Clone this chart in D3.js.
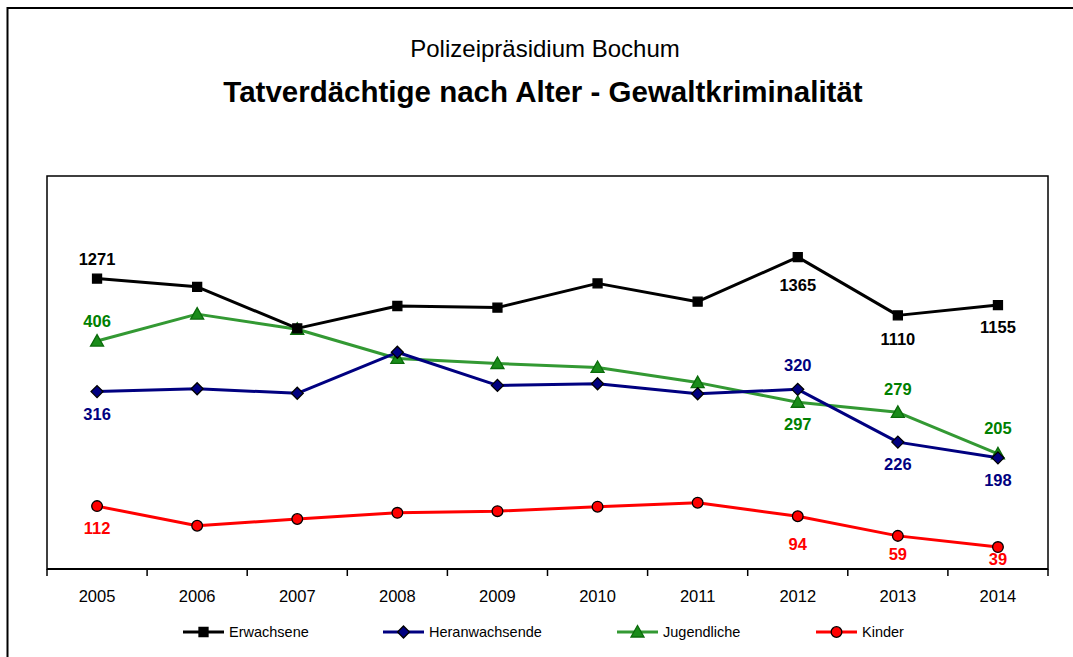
<!DOCTYPE html>
<html>
<head>
<meta charset="utf-8">
<script src="https://cdn.jsdelivr.net/npm/d3@7"></script>
<style>
  body { margin: 0; background: #fff; }
  svg { font-family: "Liberation Sans", Arial, sans-serif; }
</style>
</head>
<body>
<div id="container"></div>
<script>
// data
var years = ["2005","2006","2007","2008","2009","2010","2011","2012","2013","2014"];
var erwachsene      = [1271, 1235, 1053, 1151, 1144, 1250, 1170, 1365, 1110, 1155];
var heranwachsende  = [316, 321, 313, 386, 327, 330, 312, 320, 226, 198];
var jugendliche     = [406, 454, 427, 375, 366, 359, 332, 297, 279, 205];
var kinder          = [112, 77, 89, 100, 103, 111, 118, 94, 59, 39];

// which points carry a value label
var labelsErw  = [{i:0, pos:"above"}, {i:7, pos:"below", dy:6}, {i:8, pos:"below", dy:2}, {i:9, pos:"below"}];
var labelsHer  = [{i:0, pos:"below"}, {i:7, pos:"above", dy:-4}, {i:8, pos:"below"}, {i:9, pos:"below"}];
var labelsJug  = [{i:0, pos:"above"}, {i:7, pos:"below"}, {i:8, pos:"above", dy:-3}, {i:9, pos:"above", dy:-6}];
var labelsKin  = [{i:0, pos:"below"}, {i:7, pos:"below", dy:6}, {i:8, pos:"below", dy:-4}, {i:9, pos:"below", dy:-10}];

var W = 1073, H = 657;
var plot = {left: 47, right: 1048, top: 176, bottom: 569};

var svg = d3.select("#container").append("svg")
    .attr("width", W).attr("height", H);

// outer frame (runs off the right/bottom edge like the original)
svg.append("rect")
    .attr("x", 7.5).attr("y", 8).attr("width", W + 10).attr("height", H + 10)
    .attr("fill", "none").attr("stroke", "#000").attr("stroke-width", 2);

svg.append("text").attr("x", 545).attr("y", 57)
    .attr("text-anchor", "middle").attr("font-size", 24)
    .text("Polizeipräsidium Bochum");
svg.append("text").attr("x", 543).attr("y", 102)
    .attr("text-anchor", "middle").attr("font-size", 29.5).attr("font-weight", "bold")
    .text("Tatverdächtige nach Alter - Gewaltkriminalität");

var x = d3.scaleBand().domain(years).range([plot.left, plot.right]);
var yL = d3.scaleLinear().domain([0, 700]).range([plot.bottom, plot.top]);
var yR = d3.scaleLinear().domain([0, 1720]).range([plot.bottom, plot.top]);

// plot box
svg.append("rect")
    .attr("x", plot.left).attr("y", plot.top)
    .attr("width", plot.right - plot.left).attr("height", plot.bottom - plot.top)
    .attr("fill", "none").attr("stroke", "#000").attr("stroke-width", 1.5);

// x axis: ticks between categories
var xAxis = svg.append("g").attr("transform", "translate(0," + plot.bottom + ")");
xAxis.append("line")
    .attr("x1", plot.left).attr("x2", plot.right)
    .attr("stroke", "#000").attr("stroke-width", 2);
var tickPos = years.map(function (d) { return x(d); }).concat([plot.right]);
xAxis.selectAll("line.tick").data(tickPos).enter().append("line")
    .attr("class", "tick")
    .attr("x1", function (d) { return d; }).attr("x2", function (d) { return d; })
    .attr("y1", 0).attr("y2", 7)
    .attr("stroke", "#000").attr("stroke-width", 1.5);
xAxis.selectAll("text").data(years).enter().append("text")
    .attr("x", function (d) { return x(d) + x.bandwidth() / 2; })
    .attr("y", 33)
    .attr("text-anchor", "middle").attr("font-size", 16.5)
    .text(function (d) { return d; });

var series = [
  {name: "Erwachsene", values: erwachsene, scale: yR, line: "#000", fill: "#000", stroke: "#000", label: "#000", marker: "square", labels: labelsErw},
  {name: "Heranwachsende", values: heranwachsende, scale: yL, line: "#000080", fill: "#000080", stroke: "#000", label: "#000080", marker: "diamond", labels: labelsHer},
  {name: "Jugendliche", values: jugendliche, scale: yL, line: "#339933", fill: "#1a8c1a", stroke: "#0b6b0b", label: "#008000", marker: "triangle", labels: labelsJug},
  {name: "Kinder", values: kinder, scale: yL, line: "#ff0000", fill: "#ff0000", stroke: "#000", label: "#ff0000", marker: "circle", labels: labelsKin}
];

function markerPath(type) {
  if (type === "square") return "M-4.5,-4.5H4.5V4.5H-4.5Z";
  if (type === "diamond") return "M0,-6L6,0L0,6L-6,0Z";
  if (type === "triangle") return "M0,-6.5L6.5,5L-6.5,5Z";
  return d3.symbol().type(d3.symbolCircle).size(90)();
}

function drawMarker(g, s, cx, cy) {
  g.append("path")
    .attr("d", markerPath(s.marker))
    .attr("transform", "translate(" + cx + "," + cy + ")")
    .attr("fill", s.fill).attr("stroke", s.stroke).attr("stroke-width", 1.3);
}

// draw bottom series first so black sits on top like the original order reversed
series.slice().reverse().forEach(function (s) {
  var g = svg.append("g");
  var line = d3.line()
      .x(function (d, i) { return x(years[i]) + x.bandwidth() / 2; })
      .y(function (d) { return s.scale(d); });
  g.append("path").datum(s.values)
    .attr("d", line).attr("fill", "none")
    .attr("stroke", s.line).attr("stroke-width", 3).attr("stroke-linejoin", "round");
  s.values.forEach(function (v, i) {
    drawMarker(g, s, x(years[i]) + x.bandwidth() / 2, s.scale(v));
  });
});

// value labels
series.forEach(function (s) {
  svg.append("g").selectAll("text").data(s.labels).enter().append("text")
    .attr("x", function (d) { return x(years[d.i]) + x.bandwidth() / 2; })
    .attr("y", function (d) {
      var py = s.scale(s.values[d.i]);
      return (d.pos === "above" ? py - 14 : py + 28) + (d.dy || 0);
    })
    .attr("text-anchor", "middle").attr("font-size", 16.5).attr("font-weight", "bold")
    .attr("fill", s.label)
    .text(function (d) { return s.values[d.i]; });
});

// legend
var legendX = [183, 383, 617, 816];
var legend = svg.append("g").attr("transform", "translate(0,632)");
series.forEach(function (s, i) {
  var lg = legend.append("g").attr("transform", "translate(" + legendX[i] + ",0)");
  lg.append("line").attr("x1", 0).attr("x2", 41)
    .attr("stroke", s.line).attr("stroke-width", 3);
  drawMarker(lg, s, 20.5, 0);
  lg.append("text").attr("x", 46).attr("y", 5)
    .attr("font-size", 14.5).text(s.name);
});
</script>
</body>
</html>
